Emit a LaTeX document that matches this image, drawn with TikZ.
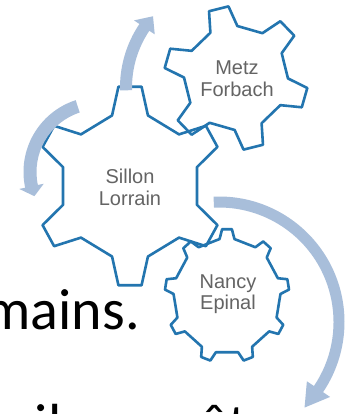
\documentclass[tikz,border=0pt]{standalone}
\usepackage{fontspec}
\newfontfamily\gearfont{Liberation Sans}
\newfontfamily\slidefont{Carlito}
\definecolor{gearblue}{RGB}{35,117,175}
\definecolor{arrowblue}{RGB}{168,190,218}
\definecolor{labelgray}{RGB}{100,100,100}
\tikzset{
  gearline/.style={draw=gearblue, line width=2.6pt, line join=round},
  bigarrow/.style={fill=arrowblue},
  gearlabel/.style={font=\gearfont\fontsize{20}{21.5}\selectfont, text=labelgray, align=center, inner sep=0pt},
  slidetext/.style={font=\slidefont\fontsize{58}{60}\selectfont, text=black, inner sep=0pt}
}
% #1 centre, #2 xscale, #3 tip radius, #4 root radius, #5 tip half-angle, #6 base half-angle, #7 first tooth, #8 tooth angles
\newcommand\gearoutline[8]{%
  \begin{scope}[shift={#1}, xscale=#2]
    \draw[gearline] (#7-#6:#4) \foreach \a in {#8} { -- (\a-#6:#4) -- (\a-#5:#3) -- (\a+#5:#3) -- (\a+#6:#4) } -- cycle;
  \end{scope}}
\begin{document}
\begin{tikzpicture}[x=1pt,y=1pt]
\useasboundingbox (0,0) rectangle (349,414);
\clip (0,0) rectangle (349,414);
\fill[white] (0,0) rectangle (349,414);

% gears
\gearoutline{(130,228)}{0.95}{100}{73}{7}{15}{30}{30,90,150,210,270,330}
\gearoutline{(236,336)}{1}{72}{52}{8}{15.5}{-136}{-136,-76,-16,44,104,164}
\gearoutline{(227,118)}{0.93}{67}{57.5}{4.5}{8}{-150}{-150,-110,-70,-30,10,50,90,130,170}

% curved arrows
\begin{scope}[shift={(233.5,326.5)}]
  \fill[bigarrow] (181.5:113.5) arc[start angle=181.5, end angle=146, radius=113.5]
    -- (146:120) -- (138.5:107.5) -- (146:95) -- (146:101.5)
    arc[start angle=146, end angle=181.5, radius=101.5] -- cycle;
\end{scope}
\begin{scope}[shift={(99,242)}]
  \fill[bigarrow] (108:75.5) arc[start angle=108, end angle=192, radius=75.5]
    -- (192:81.5) -- (200.5:69) -- (192:56.5) -- (192:62.5)
    arc[start angle=192, end angle=108, radius=62.5] -- cycle;
\end{scope}
\begin{scope}[shift={(219,92)}]
  \fill[bigarrow] (92.5:125.5) arc[start angle=92.5, end angle=-34, radius=125.5]
    -- (-34:134) -- (-45:121) -- (-34:106) -- (-34:114.5)
    arc[start angle=-34, end angle=92.5, radius=114.5] -- cycle;
\end{scope}

% labels
\node[gearlabel] (sillon) at (130,226.5) {Sillon\\Lorrain};
\node[gearlabel] (metz) at (237,335.5) {Metz\\Forbach};
\node[gearlabel] (nancy) at (228,120) {Nancy\\Epinal};

% slide text (cropped by the picture's edges, as in the reference)
\node[slidetext, anchor=base east] (line1) at (140,84) {mains.};
\node[slidetext, anchor=base east] (line2) at (296,-30) {ril pour être};
\end{tikzpicture}
\end{document}
